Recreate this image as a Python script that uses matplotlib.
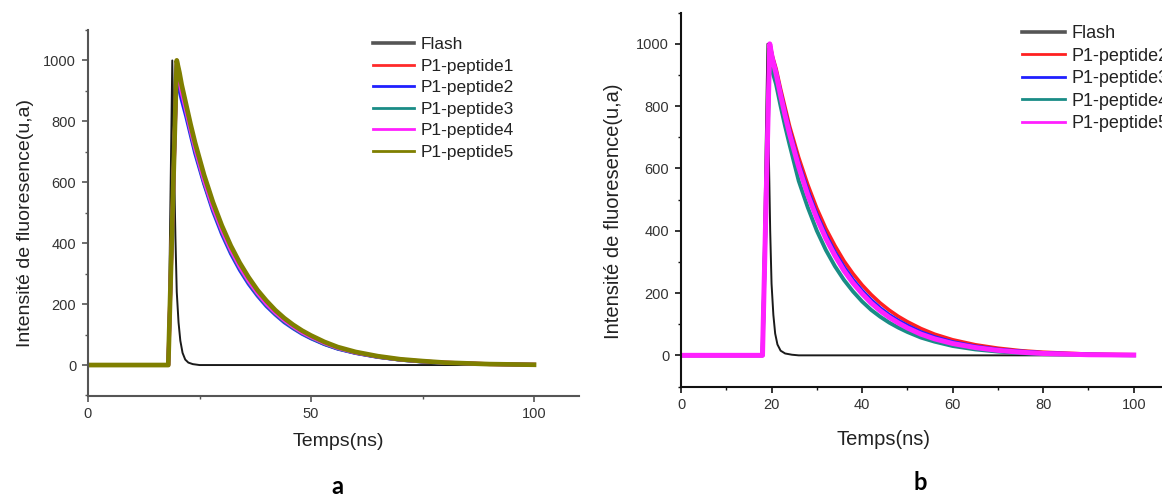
import matplotlib
matplotlib.use("Agg")
import matplotlib.pyplot as plt
from matplotlib.ticker import MultipleLocator

plt.rcParams['font.family'] = ['Liberation Sans', 'DejaVu Sans']

# ---------------- data ----------------
series_a = ["Flash", "P1-peptide1", "P1-peptide2", "P1-peptide3", "P1-peptide4", "P1-peptide5"]
series_b = ["Flash", "P1-peptide2", "P1-peptide3", "P1-peptide4", "P1-peptide5"]

# panel a
t_flash_a = [0, 18.0, 18.9, 19.3, 19.6, 19.9, 20.3, 20.7, 21.2, 21.8, 22.5, 23.5, 25, 100]
flash_a = [0, 0, 1000, 650, 420, 240, 140, 80, 40, 18, 8, 3, 0, 0]

t_pep_a = [0, 18.0, 19.9, 20.5, 21, 22, 23, 24, 26, 28, 30, 32, 34, 36, 38, 40,
           42, 44, 46, 48, 50, 53, 56, 60, 65, 70, 75, 80, 90, 100]
pep1_a = [0, 0, 1000, 950, 905, 840, 775, 715, 610, 520, 445, 378, 322, 275, 234, 200,
          170, 145, 124, 106, 90, 70, 55, 40, 27, 18, 12, 8, 3, 1]
pep2_a = [0, 0, 990, 900, 870, 815, 755, 695, 595, 505, 430, 366, 312, 266, 227, 193,
          165, 140, 120, 102, 87, 68, 53, 39, 26, 17, 11, 7, 3, 1]
pep3_a = [0, 0, 1000, 940, 895, 830, 765, 705, 600, 512, 437, 372, 318, 271, 231, 197,
          168, 143, 122, 104, 89, 69, 54, 40, 27, 17, 11, 7, 3, 1]
pep4_a = [0, 0, 985, 930, 895, 835, 772, 712, 607, 518, 443, 378, 323, 276, 236, 201,
          172, 147, 126, 107, 92, 72, 56, 41, 28, 18, 12, 8, 3, 1]
pep5_a = [0, 0, 1000, 960, 920, 855, 790, 730, 625, 535, 458, 392, 336, 288, 246, 211,
          180, 154, 132, 113, 97, 76, 59, 43, 29, 19, 13, 8, 3, 1]

# panel b
t_flash_b = [0, 17.9, 19.1, 19.4, 19.7, 20.0, 20.4, 20.8, 21.3, 22, 23, 24.5, 26, 100]
flash_b = [0, 0, 1000, 650, 400, 230, 130, 70, 35, 15, 6, 2, 0, 0]

t_pep_b = [0, 18.0, 19.6, 20.2, 21, 22, 23, 24, 26, 28, 30, 32, 34, 36, 38, 40,
           42, 44, 46, 48, 50, 53, 56, 60, 65, 70, 75, 80, 90, 100]
pep2_b = [0, 0, 1000, 960, 920, 855, 795, 735, 635, 548, 472, 407, 352, 303, 262, 226,
          195, 168, 145, 125, 108, 86, 68, 50, 34, 23, 15, 10, 4, 2]
pep3_b = [0, 0, 1000, 955, 912, 845, 782, 722, 618, 530, 453, 388, 332, 284, 243, 208,
          178, 152, 130, 112, 96, 75, 59, 43, 29, 19, 13, 8, 3, 1]
pep4_b = [0, 0, 990, 910, 870, 800, 735, 675, 560, 475, 400, 338, 286, 242, 205, 173,
          146, 124, 105, 89, 75, 57, 44, 30, 19, 12, 7, 4, 2, 0]
pep5_b = [0, 0, 1000, 950, 905, 835, 770, 710, 605, 515, 440, 375, 320, 272, 232, 198,
          168, 143, 122, 104, 88, 68, 53, 38, 25, 16, 10, 6, 2, 1]

colors_a = ["#1a1a1a", "#ff2a2a", "#2020ff", "#1a8c86", "#ff20ff", "#7f7f00"]
colors_b = ["#1a1a1a", "#ff2020", "#2020ff", "#1a8c86", "#ff20ff"]

# ---------------- figure ----------------
W, H = 1162, 497
fig = plt.figure(figsize=(W / 100, H / 100), dpi=100)

ax_a = fig.add_axes([88 / W, 101.5 / H, 490.6 / W, 365.5 / H])
ax_b = fig.add_axes([681 / W, 110.5 / H, 498 / W, 373.8 / H])

tick_color = "#333333"
label_color = "#222222"


def style(ax, spine_color, xmajor, xminor):
    ax.set_xlim(0, 110)
    ax.set_ylim(-100, 1100)
    for s in ("top", "right"):
        ax.spines[s].set_visible(False)
    for s in ("left", "bottom"):
        ax.spines[s].set_color(spine_color)
        ax.spines[s].set_linewidth(1.5)
    ax.xaxis.set_major_locator(MultipleLocator(xmajor))
    ax.xaxis.set_minor_locator(MultipleLocator(xminor))
    ax.yaxis.set_major_locator(MultipleLocator(200))
    ax.yaxis.set_minor_locator(MultipleLocator(100))
    ax.tick_params(which="major", direction="out", length=4.5, width=1.2,
                   color=spine_color, labelsize=10.5, labelcolor=tick_color, pad=4)
    ax.tick_params(which="minor", direction="out", length=2.5, width=1.0,
                   color=spine_color)
    ax.set_yticks([0, 200, 400, 600, 800, 1000])
    ax.patch.set_alpha(0)


# panel a
ax_a.plot(t_flash_a, flash_a, color=colors_a[0], lw=1.4, label=series_a[0])
for t, v, c, n, lw in zip([t_pep_a] * 5, [pep1_a, pep2_a, pep3_a, pep4_a, pep5_a],
                          colors_a[1:], series_a[1:], [2.8, 2.6, 2.6, 2.8, 3.4]):
    ax_a.plot(t, v, color=c, lw=lw, label=n)
style(ax_a, "#555555", 50, 25)

# panel b
ax_b.plot(t_flash_b, flash_b, color=colors_b[0], lw=1.4, label=series_b[0])
for t, v, c, n, lw in zip([t_pep_b] * 4, [pep2_b, pep3_b, pep4_b, pep5_b],
                          colors_b[1:], series_b[1:], [2.6, 2.6, 2.8, 3.6]):
    ax_b.plot(t, v, color=c, lw=lw, label=n)
style(ax_b, "#111111", 20, 10)

# axis labels
ax_a.set_xlabel("Temps(ns)", fontsize=14, color=label_color)
ax_a.xaxis.label.set_verticalalignment("center")
ax_a.xaxis.set_label_coords(0.51, -0.127)
ax_a.set_ylabel("Intensité de fluoresence(u,a)", fontsize=14, color=label_color)
ax_a.yaxis.label.set_verticalalignment("center")
ax_a.yaxis.set_label_coords(-0.128, 0.472)

ax_b.set_xlabel("Temps(ns)", fontsize=14.5, color=label_color)
ax_b.xaxis.label.set_verticalalignment("center")
ax_b.xaxis.set_label_coords(0.4076, -0.143)
ax_b.set_ylabel("Intensité de fluoresence(u,a)", fontsize=14.5, color=label_color)
ax_b.yaxis.label.set_verticalalignment("center")
ax_b.yaxis.set_label_coords(-0.1365, 0.4695)

# legends
for ax, anchor, fs, sp in ((ax_a, (373 / W, 1 - 37 / H), 12.4, 0.38),
                           (ax_b, (1022 / W, 1 - 25 / H), 13, 0.31)):
    leg = ax.legend(loc="upper left", bbox_to_anchor=anchor, bbox_transform=fig.transFigure,
                    frameon=False, fontsize=fs, handlelength=2.4, handletextpad=0.35,
                    labelspacing=sp, borderpad=0, borderaxespad=0)
    for txt in leg.get_texts():
        txt.set_color(label_color)
    for i, line in enumerate(leg.get_lines()):
        line.set_linewidth(2.6 if i == 0 else 2.0)
        if i == 0:
            line.set_color("#555555")

# panel letters
fig.text(337 / W, 3 / H, "a", fontsize=17, fontweight="bold", family=["Lato", "DejaVu Sans"],
         ha="center", va="baseline", color="black")
fig.text(920 / W, 7 / H, "b", fontsize=17, fontweight="bold", family=["Lato", "DejaVu Sans"],
         ha="center", va="baseline", color="black")

fig.savefig("out.png", dpi=100)
